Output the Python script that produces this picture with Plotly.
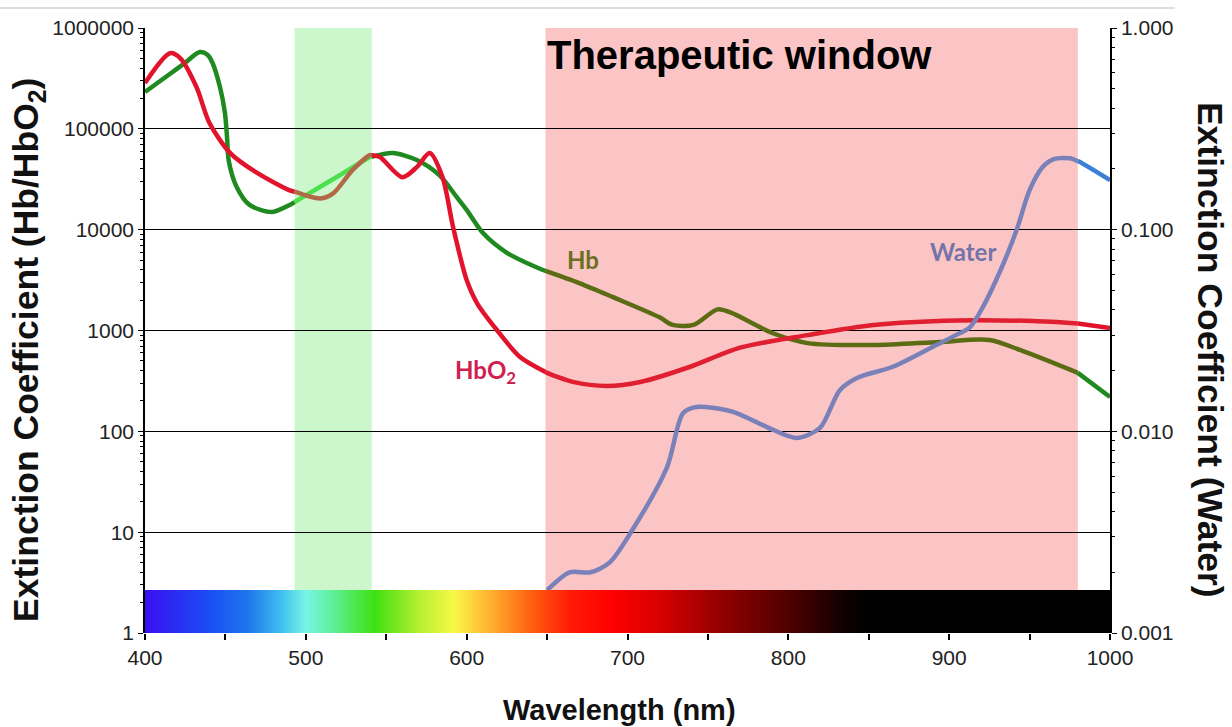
import numpy as np
import plotly.graph_objects as go

# ---------------- data ----------------
wl_hb = [400, 415, 425, 434, 439, 442, 446.6, 449.7, 451, 452, 457, 465, 479, 490,
         500, 520, 540, 554, 569, 583, 594, 600, 610, 625, 647, 670, 691, 720,
         728, 741, 756, 764, 790, 812, 853, 894, 925, 944, 980, 1000]
hb = [232000, 346000, 452000, 577000, 540000, 450000, 260000, 144000, 83000, 49000,
      26500, 17600, 15000, 17600, 21900, 33900, 52500, 57500, 49000, 34700, 20900,
      15700, 9300, 5900, 4000, 2950, 2140, 1350, 1135, 1135, 1620, 1510, 945, 750,
      718, 770, 805, 641, 380, 219]

wl_hbo2 = [400, 415.5, 422, 432, 440, 453, 470, 490, 509, 517, 529, 540, 546, 560,
           569, 577, 585, 591.5, 600, 606.5, 619, 633, 650, 666, 687, 708, 739, 770,
           812, 853, 905, 952, 980, 1000]
hbo2 = [285000, 562000, 501000, 260000, 115000, 57500, 36300, 24500, 20400, 22900,
        38900, 55000, 52500, 33100, 41700, 57500, 33100, 10700, 3160, 1860, 1000,
        550, 380, 309, 282, 309, 437, 676, 900, 1135, 1260, 1240, 1175, 1060]

wl_water = [650, 664, 677, 689, 703, 724.6, 734.5, 743, 765.6, 786.7, 805, 819.7,
            832, 842.7, 865, 890, 902, 913, 921, 932, 942, 950, 958, 965, 975, 981,
            1000]
water = [0.00163, 0.0020, 0.0020, 0.00224, 0.00324, 0.00665, 0.0123, 0.0132, 0.0125,
         0.0105, 0.00927, 0.0104, 0.0160, 0.0184, 0.0209, 0.0263, 0.0294, 0.0329,
         0.0414, 0.0631, 0.100, 0.157, 0.204, 0.224, 0.226, 0.217, 0.176]

x_ticks = [400, 500, 600, 700, 800, 900, 1000]
left_tickvals = [1, 10, 100, 1000, 10000, 100000, 1000000]
left_ticktext = ["1", "10", "100", "1000", "10000", "100000", "1000000"]
right_tickvals = [0.001, 0.01, 0.1, 1]
right_ticktext = ["0.001", "0.010", "0.100", "1.000"]

green_band = (493, 541)
pink_band = (649, 980)
spectrum_top = 2.67  # in left-axis units

spectrum_stops = [400, 440, 465, 485, 500, 515, 543, 570, 592, 615, 640, 665, 690,
                  720, 760, 800, 835, 850, 1000]
spectrum_colors = ["#3a10f0", "#1a4df5", "#1f78ec", "#40c0f0", "#78f5e6", "#60f0a0",
                   "#3ee010", "#b4f030", "#f8f848", "#ffb030", "#ff6010", "#ff1a05",
                   "#ff0000", "#d80000", "#900000", "#500000", "#100000", "#000000",
                   "#000000"]

# ---------------- helpers ----------------
cuts = [green_band[0], green_band[1], pink_band[0], pink_band[1]]


def split_segments(x, y):
    x = np.asarray(x, float)
    ly = np.log10(np.asarray(y, float))
    pts = sorted(set(list(x) + [c for c in cuts if x[0] < c < x[-1]]))
    lys = np.interp(pts, x, ly)
    bounds = [-np.inf] + cuts + [np.inf]
    segs = []
    for i in range(len(bounds) - 1):
        lo, hi = bounds[i], bounds[i + 1]
        idx = [k for k, p in enumerate(pts) if lo <= p <= hi]
        if len(idx) >= 2:
            segs.append((i, [pts[k] for k in idx], [10 ** lys[k] for k in idx]))
    return segs


fig = go.Figure()

line_specs = [
    (wl_hb, hb, "y", ["#1f8a1f", "#4ce04c", "#1f8a1f", "#5c6c14", "#1f8a1f"]),
    (wl_hbo2, hbo2, "y", ["#e2132c", "#b06a48", "#e2132c", "#e01f30", "#e2132c"]),
]
for xs, ys, yax, cols in line_specs:
    for region, sx, sy in split_segments(xs, ys):
        fig.add_trace(go.Scatter(x=sx, y=sy, mode="lines", yaxis=yax,
                                 line=dict(color=cols[region], width=4.5,
                                           shape="spline", smoothing=0.8),
                                 hoverinfo="skip", showlegend=False))

water_cols = ["#3a7fd8", "#3a7fd8", "#3a7fd8", "#7a80b8", "#3a7fd8"]
for region, sx, sy in split_segments(wl_water, water):
    fig.add_trace(go.Scatter(x=sx, y=sy, mode="lines", yaxis="y2",
                             line=dict(color=water_cols[region], width=4.5,
                                       shape="spline", smoothing=0.8),
                             hoverinfo="skip", showlegend=False))

# spectrum bar (drawn on y2 so it sits on top of the water line)
lo_w = 0.001
hi_w = 10 ** (-3 + np.log10(spectrum_top) / 2)
span = spectrum_stops[-1] - spectrum_stops[0]
cscale = [[(s - spectrum_stops[0]) / span, c] for s, c in zip(spectrum_stops, spectrum_colors)]
fig.add_trace(go.Scatter(
    x=[400, 1000, 1000, 400, 400], y=[lo_w, lo_w, hi_w, hi_w, lo_w], yaxis="y2",
    mode="lines", line=dict(width=0), fill="toself",
    fillgradient=dict(type="horizontal", colorscale=cscale),
    hoverinfo="skip", showlegend=False))

# bands
fig.add_shape(type="rect", xref="x", yref="paper", x0=green_band[0], x1=green_band[1],
              y0=0, y1=1, fillcolor="#ccf7cc", line_width=0, layer="below")
fig.add_shape(type="rect", xref="x", yref="paper", x0=pink_band[0], x1=pink_band[1],
              y0=0, y1=1, fillcolor="#fcc5c5", line_width=0, layer="below")
# thin grey line at the top of the picture
fig.add_shape(type="line", xref="paper", yref="paper", x0=-0.151, x1=1.067, y0=1.033,
              y1=1.033, line=dict(color="#dcdcdc", width=2))

tick_font = dict(family="Liberation Sans, Arial, sans-serif", size=21, color="#222222")
title_font = dict(family="Liberation Sans, Arial, sans-serif", size=35.5, color="#111111")

fig.update_layout(
    width=1232, height=727,
    margin=dict(l=145, r=122, t=28, b=94),
    paper_bgcolor="white", plot_bgcolor="white",
    showlegend=False,
    xaxis=dict(range=[400, 1000], tickvals=x_ticks, ticks="outside", ticklen=6,
               tickcolor="black", tickwidth=1.5, showgrid=False, zeroline=False,
               showline=False, tickfont=tick_font,
               minor=dict(ticks="outside", dtick=50, ticklen=6, tickcolor="black",
                          tickwidth=1.5, showgrid=False)),
    yaxis=dict(type="log", range=[0, 6], tickvals=left_tickvals, ticktext=left_ticktext,
               ticks="outside", ticklen=5, tickcolor="black", showline=True,
               linecolor="black", linewidth=1.5, showgrid=True, gridcolor="black",
               gridwidth=1, zeroline=False, tickfont=tick_font,
               minor=dict(ticks="outside", ticklen=3, tickcolor="black", dtick="D1",
                          showgrid=False)),
    yaxis2=dict(type="log", range=[-3, 0], overlaying="y", side="right", anchor="x",
                tickvals=right_tickvals, ticktext=right_ticktext, ticks="outside",
                ticklen=5, tickcolor="black", showline=True, linecolor="black",
                linewidth=1.5, showgrid=False, zeroline=False, tickfont=tick_font,
                minor=dict(ticks="outside", ticklen=3, tickcolor="black", dtick="D1",
                           showgrid=False)),
)

label_family = "Lato, Open Sans, sans-serif"
annotations = [
    dict(x=649, y=5.733, xref="x", yref="y", text="<b>Therapeutic window</b>",
         showarrow=False, xanchor="left", yanchor="middle",
         font=dict(family="Liberation Sans, Arial, sans-serif", size=40, color="black")),
    dict(x=672.3, y=3.709, xref="x", yref="y", text="<b>Hb</b>", showarrow=False,
         xanchor="center", yanchor="middle",
         font=dict(family=label_family, size=24, color="#6a701e")),
    dict(x=611.4, y=2.598, xref="x", yref="y", text="<b>HbO<sub>2</sub></b>",
         showarrow=False, xanchor="center", yanchor="middle",
         font=dict(family=label_family, size=24, color="#d02050")),
    dict(x=908.6, y=3.779, xref="x", yref="y", text="<b>Water</b>", showarrow=False,
         xanchor="center", yanchor="middle",
         font=dict(family=label_family, size=24, color="#7474a8")),
    dict(x=-0.1212, y=0.468, xref="paper", yref="paper",
         text="<b>Extinction Coefficient (Hb/HbO<sub>2</sub>)</b>", showarrow=False,
         xanchor="center", yanchor="middle", textangle=-90, font=title_font),
    dict(x=1.1036, y=0.468, xref="paper", yref="paper",
         text="<b>Extinction Coefficient (Water)</b>", showarrow=False,
         xanchor="center", yanchor="middle", textangle=90, font=title_font),
    dict(x=0.492, y=-0.127, xref="paper", yref="paper", text="<b>Wavelength (nm)</b>",
         showarrow=False, xanchor="center", yanchor="middle",
         font=dict(family="Liberation Sans, Arial, sans-serif", size=29, color="#111111")),
]
fig.update_layout(annotations=annotations)

fig.write_html("out.html")
